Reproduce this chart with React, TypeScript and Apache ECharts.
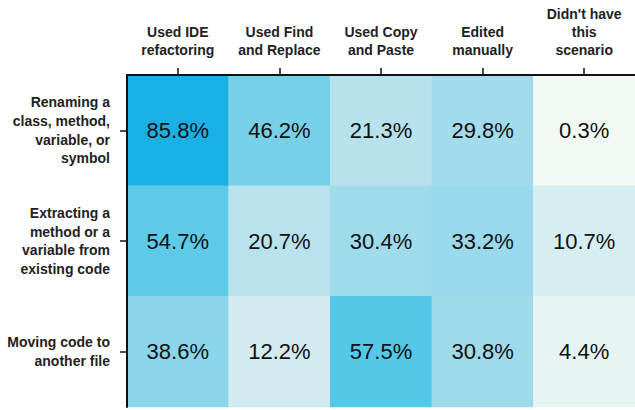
import React, { useEffect, useRef } from "react";
import * as echarts from "echarts";

const columns = [
  "Used IDE\nrefactoring",
  "Used Find\nand Replace",
  "Used Copy\nand Paste",
  "Edited\nmanually",
  "Didn't have\nthis\nscenario",
];

const rows = [
  "Renaming a\nclass, method,\nvariable, or\nsymbol",
  "Extracting a\nmethod or a\nvariable from\nexisting code",
  "Moving code to\nanother file",
];

const renamingValues = [85.8, 46.2, 21.3, 29.8, 0.3];
const extractingValues = [54.7, 20.7, 30.4, 33.2, 10.7];
const movingValues = [38.6, 12.2, 57.5, 30.8, 4.4];

const colorStops = ["#F3F9F5", "#B8E1EE", "#7FD2E8", "#42C3E7", "#19B1E5"];

const FONT = "'Liberation Sans', Arial, Helvetica, sans-serif";

export default function App() {
  const ref = useRef<HTMLDivElement>(null);

  useEffect(() => {
    if (!ref.current) return;
    const chart = echarts.init(ref.current, null, { renderer: "svg" });
    const allRows = [renamingValues, extractingValues, movingValues];
    const data: [number, number, number][] = [];
    allRows.forEach((vals, r) => {
      vals.forEach((v, c) => data.push([c, r, v]));
    });
    chart.setOption({
      animation: false,
      textStyle: { fontFamily: FONT },
      grid: { left: 127, top: 75, width: 515, height: 332 },
      xAxis: {
        type: "category",
        position: "top",
        data: columns,
        z: 10,
        axisLine: { show: true, lineStyle: { color: "#111", width: 2 } },
        axisTick: { show: true, length: 7, alignWithLabel: true, lineStyle: { color: "#111", width: 1.5 } },
        axisLabel: {
          margin: 16,
          fontSize: 14,
          fontWeight: "bold",
          color: "#222",
          lineHeight: 18,
          fontFamily: FONT,
          interval: 0,
        },
        splitLine: { show: false },
        splitArea: { show: false },
      },
      yAxis: {
        type: "category",
        inverse: true,
        data: rows,
        z: 10,
        axisLine: { show: true, lineStyle: { color: "#111", width: 2 } },
        axisTick: { show: true, length: 7, alignWithLabel: true, lineStyle: { color: "#111", width: 1.5 } },
        axisLabel: {
          margin: 17,
          fontSize: 14,
          fontWeight: "bold",
          color: "#222",
          lineHeight: 18.6,
          align: "right",
          fontFamily: FONT,
          interval: 0,
        },
        splitLine: { show: false },
        splitArea: { show: false },
      },
      visualMap: {
        show: false,
        type: "continuous",
        min: 0,
        max: 85.8,
        dimension: 2,
        inRange: { color: colorStops },
      },
      series: [
        {
          type: "heatmap",
          data,
          itemStyle: { borderWidth: 0 },
          label: {
            show: true,
            formatter: (p: any) => p.value[2].toFixed(1) + "%",
            fontSize: 22,
            color: "#111",
            fontFamily: FONT,
          },
          emphasis: { disabled: true },
        },
      ],
    });
    return () => chart.dispose();
  }, []);

  return (
    <div
      ref={ref}
      style={{ position: "fixed", left: 0, top: 0, width: 635, height: 410, background: "#fff" }}
    />
  );
}
